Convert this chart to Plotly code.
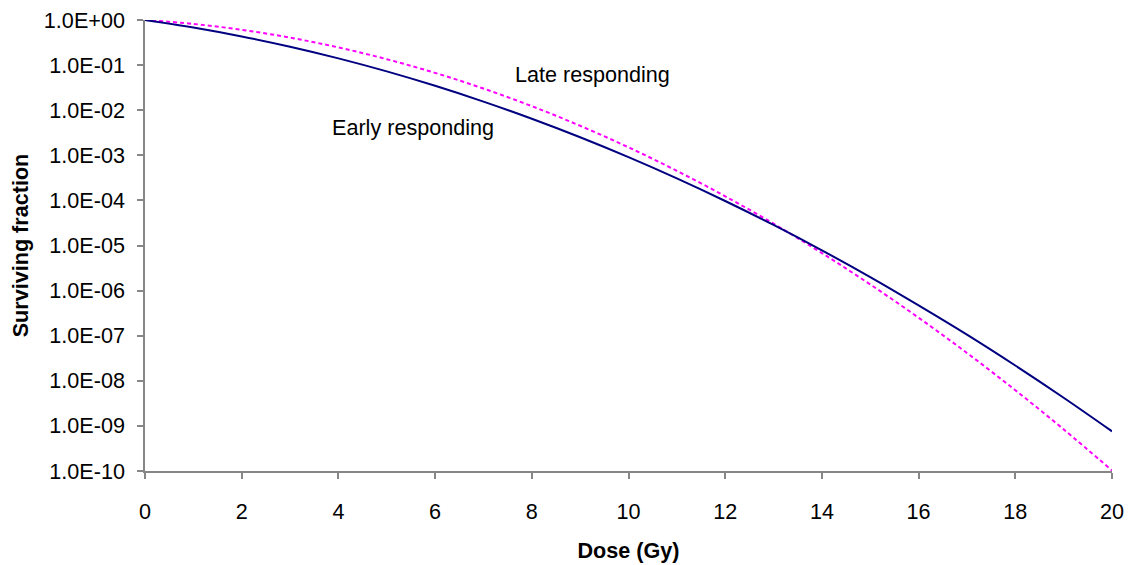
import plotly.graph_objects as go

# Dose in Gy
dose = [0, 1, 2, 3, 4, 5, 6, 7, 8, 9, 10, 11, 12, 13, 14, 15, 16, 17, 18, 19, 20]

# Surviving fraction, early-responding tissue
early = [1.0, 0.6805, 0.4317, 0.2554, 0.1409, 0.07244, 0.03474, 0.01553,
         0.006474, 0.002516, 9.119e-4, 3.081e-4, 9.708e-5, 2.852e-5,
         7.811e-6, 1.995e-6, 4.701e-7, 1.055e-7, 2.183e-8, 4.213e-9, 7.583e-10]

# Surviving fraction, late-responding tissue
late = [1.0, 0.8187, 0.6065, 0.4066, 0.2466, 0.1353, 0.06721, 0.03020,
        0.01228, 0.004517, 0.001503, 4.528e-4, 1.234e-4, 3.043e-5,
        6.790e-6, 1.371e-6, 2.505e-7, 4.140e-8, 6.192e-9, 8.380e-10, 1.026e-10]

x_ticks = [0, 2, 4, 6, 8, 10, 12, 14, 16, 18, 20]
y_ticks = [1e0, 1e-1, 1e-2, 1e-3, 1e-4, 1e-5, 1e-6, 1e-7, 1e-8, 1e-9, 1e-10]
y_tick_text = ["1.0E+00", "1.0E-01", "1.0E-02", "1.0E-03", "1.0E-04", "1.0E-05",
               "1.0E-06", "1.0E-07", "1.0E-08", "1.0E-09", "1.0E-10"]

FONT = "Liberation Sans, Arial, sans-serif"
FS = 21.6
AXIS_COLOR = "#868686"

fig = go.Figure()
fig.add_trace(go.Scatter(
    x=dose, y=late, mode="lines", line_shape="spline",
    line=dict(color="#FF00FF", width=2, dash="4px,3px"),
    name="Late responding", showlegend=False, hoverinfo="x+y"))
fig.add_trace(go.Scatter(
    x=dose, y=early, mode="lines", line_shape="spline",
    line=dict(color="#000080", width=2),
    name="Early responding", showlegend=False, hoverinfo="x+y"))

fig.add_annotation(x=7.61, y=-1.2, xref="x", yref="y", text="Late responding",
                   showarrow=False, xanchor="left", yanchor="middle",
                   font=dict(family=FONT, size=FS, color="#000000"))
fig.add_annotation(x=3.83, y=-2.38, xref="x", yref="y", text="Early responding",
                   showarrow=False, xanchor="left", yanchor="middle",
                   font=dict(family=FONT, size=FS, color="#000000"))

fig.update_layout(
    width=1133, height=565,
    margin=dict(l=145, r=21, t=20, b=94, pad=0),
    paper_bgcolor="white", plot_bgcolor="white",
    font=dict(family=FONT, size=FS, color="#000000"),
    xaxis=dict(
        range=[0, 20], tickmode="array", tickvals=x_ticks,
        automargin=False,
        showgrid=False, zeroline=False,
        showline=True, linecolor=AXIS_COLOR, linewidth=1.5,
        ticks="outside", ticklen=6, tickcolor=AXIS_COLOR, tickwidth=1.5,
        ticklabelstandoff=14,
        title=dict(text="<b>Dose (Gy)</b>", standoff=20,
                   font=dict(family=FONT, size=FS)),
    ),
    yaxis=dict(
        type="log", range=[-10, 0], tickmode="array",
        tickvals=y_ticks, ticktext=y_tick_text,
        automargin=False,
        showgrid=False, zeroline=False,
        showline=True, linecolor=AXIS_COLOR, linewidth=1.5,
        ticks="outside", ticklen=6, tickcolor=AXIS_COLOR, tickwidth=1.5,
        ticklabelstandoff=8,
        title=dict(text="<b>Surviving fraction</b>", standoff=9,
                   font=dict(family=FONT, size=FS)),
    ),
)

fig.write_html("out.html")
